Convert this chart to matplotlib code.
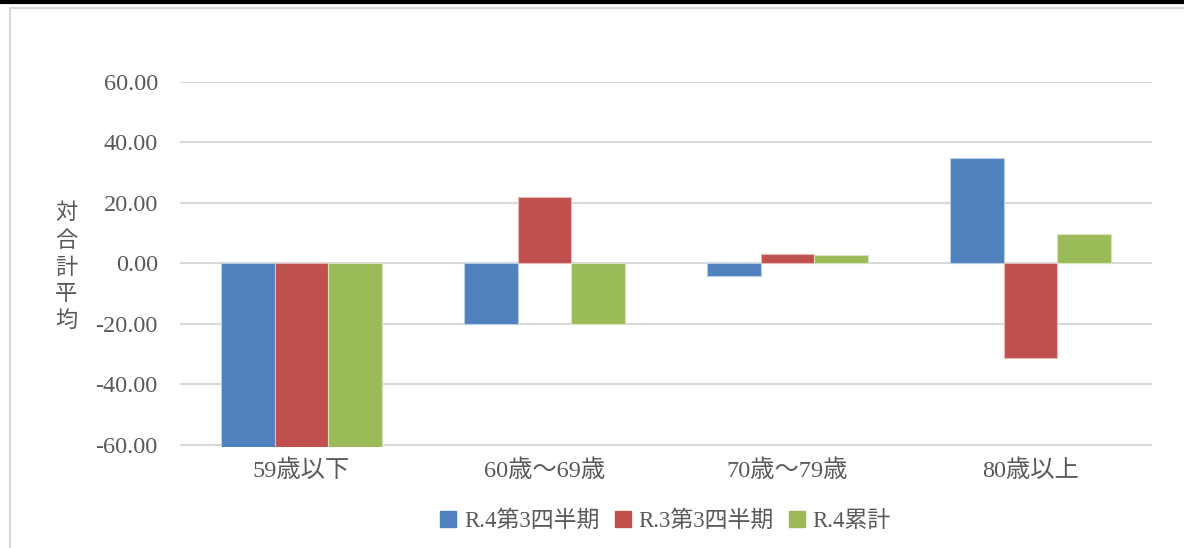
import numpy as np
import matplotlib.pyplot as plt
from matplotlib.lines import Line2D
from matplotlib.patches import Rectangle

plt.rcParams['font.family'] = ['Liberation Serif', 'Noto Sans CJK JP']

categories = ['59歳以下', '60歳～69歳', '70歳～79歳', '80歳以上']
series_names = ['R.4第3四半期', 'R.3第3四半期', 'R.4累計']
r4_q3 = [-61.0, -20.2, -4.3, 34.8]
r3_q3 = [-61.0, 21.9, 3.1, -31.2]
r4_total = [-61.0, -20.2, 2.6, 9.8]
yticks = [-60, -40, -20, 0, 20, 40, 60]

colors = ['#4F81BD', '#C0504D', '#9BBB59']
edges = ['#B9CDE5', '#E6B9B8', '#D7E4BD']
text_color = '#595959'

fig = plt.figure(figsize=(11.84, 5.48), dpi=100)
ax = fig.add_axes([180 / 1184, 1 - 447 / 548, 972 / 1184, 365 / 548])

x = np.arange(len(categories))
w = 0.222
for i, vals in enumerate([r4_q3, r3_q3, r4_total]):
    ax.bar(x + (i - 1) * w, vals, w, color=colors[i], edgecolor=edges[i],
           linewidth=0.8, zorder=3, label=series_names[i])

ax.set_xlim(-0.5, len(categories) - 0.5)
ax.set_ylim(-60.8, 60)
ax.set_yticks(yticks)
ax.set_yticklabels([f'{v:.2f}' for v in yticks])
ax.set_xticks(x)
ax.set_xticklabels(categories)
ax.tick_params(length=0, labelsize=17.5, labelcolor=text_color)
ax.tick_params(axis='y', pad=16)
ax.tick_params(axis='x', pad=9)
ax.grid(axis='y', color='#D9D9D9', linewidth=1.5, zorder=0)
for s in ax.spines.values():
    s.set_visible(False)

fig.text(66 / 1184, 1 - 268 / 548, '対\n合\n計\n平\n均', ha='center', va='center',
         fontsize=16, color=text_color, linespacing=1.45)

handles = [Line2D([], [], marker='s', linestyle='none', markersize=11,
                  markerfacecolor=c, markeredgecolor=c) for c in colors]
fig.legend(handles, series_names, loc='center', bbox_to_anchor=(665 / 1184, 1 - 521 / 548),
           ncol=3, frameon=False, fontsize=16.5, labelcolor=text_color,
           handlelength=0.8, handletextpad=0.3, columnspacing=0.6)

# outer frame like the source screenshot
fig.add_artist(Line2D([0, 1], [1 - 2 / 548, 1 - 2 / 548], color='black', linewidth=3))
fig.add_artist(Rectangle((9.5 / 1184, -0.1), 1.2, 1 - 8 / 548 + 0.1, fill=False,
                         edgecolor='#D9D9D9', linewidth=1.5))

fig.savefig('out.png', dpi=100)
